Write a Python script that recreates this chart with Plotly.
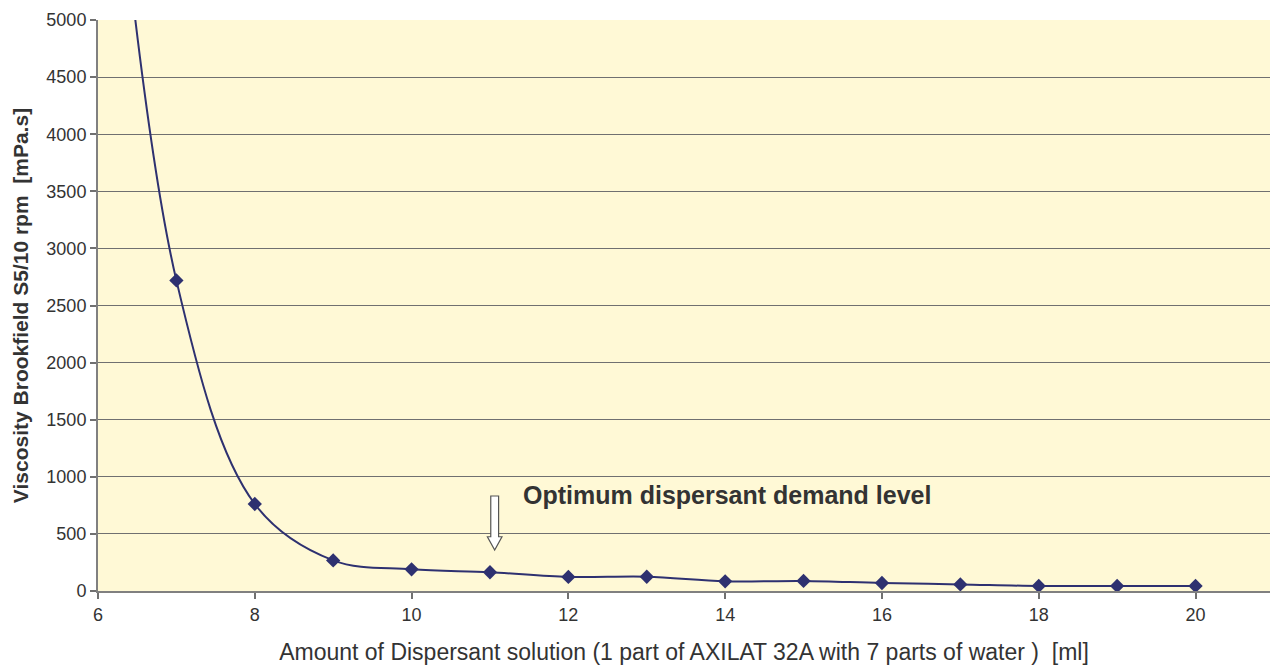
import plotly.graph_objects as go

# Data
dispersant_ml = [6, 7, 8, 9, 10, 11, 12, 13, 14, 15, 16, 17, 18, 19, 20]
viscosity_mpas = [8200, 2720, 762, 268, 190, 164, 123, 125, 85, 88, 70, 58, 44, 44, 44]

y_ticks = [0, 500, 1000, 1500, 2000, 2500, 3000, 3500, 4000, 4500, 5000]
x_ticks = [6, 8, 10, 12, 14, 16, 18, 20]

x_title = "Amount of Dispersant solution (1 part of AXILAT 32A with 7 parts of water )  [ml]"
y_title = "<b>Viscosity Brookfield S5/10 rpm  [mPa.s]</b>"
note_text = "<b>Optimum dispersant demand level</b>"

# Arrow (decoration) geometry in data units
arrow_x = 11.06
arrow_top, arrow_neck, arrow_tip = 832, 475, 359
shaft_hw, head_hw = 0.05, 0.093

line_color = "#2E3170"
text_color = "#333333"
font_family = "Liberation Sans, Arial, sans-serif"

fig = go.Figure()
fig.add_trace(go.Scatter(
    x=dispersant_ml, y=viscosity_mpas,
    mode="lines+markers",
    line=dict(color=line_color, width=2, shape="spline", smoothing=1),
    marker=dict(symbol="diamond", size=11, color=line_color),
    showlegend=False, hoverinfo="x+y",
))

path = (f"M {arrow_x - shaft_hw},{arrow_top} L {arrow_x + shaft_hw},{arrow_top} "
        f"L {arrow_x + shaft_hw},{arrow_neck} L {arrow_x + head_hw},{arrow_neck} "
        f"L {arrow_x},{arrow_tip} L {arrow_x - head_hw},{arrow_neck} "
        f"L {arrow_x - shaft_hw},{arrow_neck} Z")
fig.add_shape(type="path", path=path, xref="x", yref="y",
              fillcolor="white", line=dict(color="#555555", width=1.2), layer="above")

fig.add_annotation(x=11.39, y=840, xref="x", yref="y", text=note_text,
                   showarrow=False, xanchor="left", yanchor="middle",
                   font=dict(size=25, color=text_color, family=font_family))

fig.update_layout(
    width=1270, height=671,
    margin=dict(l=98, r=0, t=20, b=80),
    paper_bgcolor="white",
    plot_bgcolor="#FFF9D6",
    font=dict(family=font_family, color=text_color, size=18),
    xaxis=dict(
        range=[6, 20.95], tickvals=x_ticks, ticks="outside", ticklen=6,
        tickcolor="#707070", tickwidth=1.5,
        showgrid=False, zeroline=False,
        showline=True, linecolor="#808080", linewidth=2,
        tickfont=dict(size=18, color=text_color),
        title=dict(text=x_title, font=dict(size=23, color=text_color), standoff=20),
    ),
    yaxis=dict(
        range=[0, 5000], tickvals=y_ticks, ticks="outside", ticklen=6,
        tickcolor="#707070", tickwidth=1.5,
        showgrid=True, gridcolor="#707070", gridwidth=1.2,
        zeroline=False,
        showline=True, linecolor="#808080", linewidth=2,
        tickfont=dict(size=18, color=text_color),
        title=dict(text=y_title, font=dict(size=21, color=text_color), standoff=12),
    ),
)

fig.write_html(
    "out.html",
    config={"displayModeBar": False},
    post_script="document.body.style.margin='0';document.documentElement.style.overflow='hidden';",
)
